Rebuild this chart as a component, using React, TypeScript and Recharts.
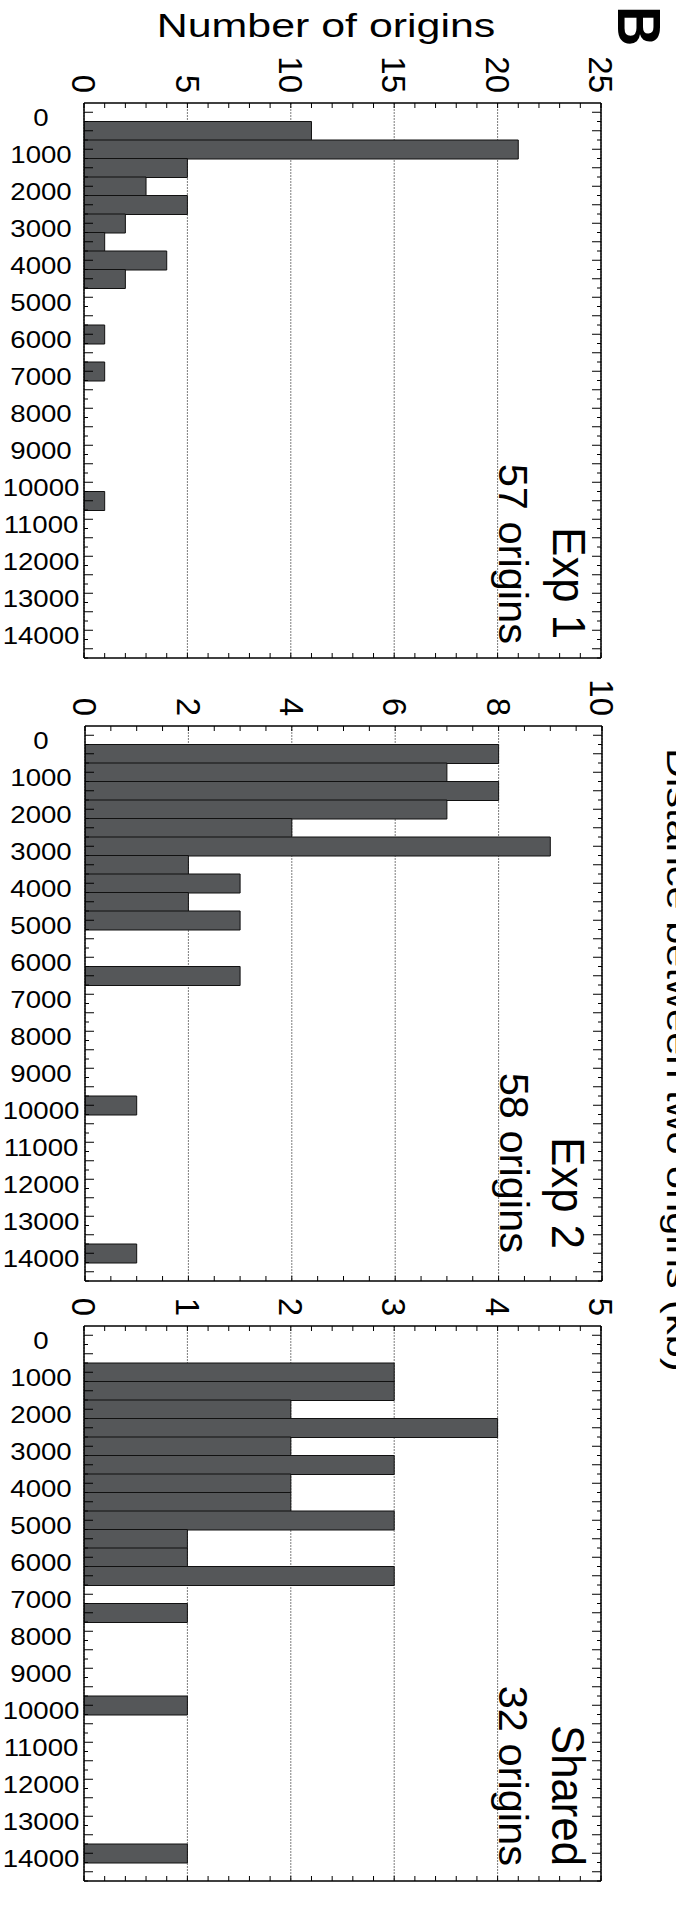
import React from "react";
import { BarChart, Bar, XAxis, YAxis, CartesianGrid } from "recharts";

// distance bins (bp), 500 wide, centred on the value
const distanceBins = [
  "0", "500", "1000", "1500", "2000", "2500", "3000", "3500", "4000", "4500",
  "5000", "5500", "6000", "6500", "7000", "7500", "8000", "8500", "9000", "9500",
  "10000", "10500", "11000", "11500", "12000", "12500", "13000", "13500", "14000", "14500",
];

const exp1Origins = [0, 11, 21, 5, 3, 5, 2, 1, 4, 2, 0, 0, 1, 0, 1, 0, 0, 0, 0, 0, 0, 1, 0, 0, 0, 0, 0, 0, 0, 0];
const exp2Origins = [0, 8, 7, 8, 7, 4, 9, 2, 3, 2, 3, 0, 0, 3, 0, 0, 0, 0, 0, 0, 1, 0, 0, 0, 0, 0, 0, 0, 1, 0];
const sharedOrigins = [0, 0, 3, 3, 2, 4, 2, 3, 2, 2, 3, 1, 1, 3, 0, 1, 0, 0, 0, 0, 1, 0, 0, 0, 0, 0, 0, 0, 1, 0];

const exp1Ticks = [0, 5, 10, 15, 20, 25];
const exp2Ticks = [0, 2, 4, 6, 8, 10];
const sharedTicks = [0, 1, 2, 3, 4, 5];

const FONT = "'Liberation Sans', Arial, Helvetica, sans-serif";
const PLOT_H = 555;
const TOP_H = 60;
const BAR_FILL = "#555759";

const Panel = ({ counts, ticks, minorStep, frameTop, frameLeft, frameRight }) => {
  const data = distanceBins.map((d, i) => ({ dist: d, n: counts[i] }));
  const band = PLOT_H / distanceBins.length;
  const xMax = ticks[ticks.length - 1];
  const minorTicks = [];
  for (let k = 0; k * minorStep <= xMax + 1e-9; k++) minorTicks.push(+(k * minorStep).toFixed(3));

  const topTick = ({ x, y, payload }) => (
    <text
      transform={`translate(${x},${y - 10}) rotate(90)`}
      textAnchor="end"
      dy="0.36em"
      fontSize={33}
      fontFamily={FONT}
      fill="#000"
    >
      {payload.value}
    </text>
  );

  const bottomTick = ({ x, y }) => (
    <g stroke="#000" strokeWidth={1}>
      <line x1={x} x2={x} y1={y} y2={y - 5} />
      <line x1={x} x2={x} y1={y - PLOT_H} y2={y - PLOT_H + 5} />
    </g>
  );

  const leftTick = ({ x, y, payload }) => {
    const v = Number(payload.value);
    return (
      <g>
        <line x1={x} x2={x + 9} y1={y} y2={y} stroke="#000" strokeWidth={1} />
        <line x1={x} x2={x + 4} y1={y + band / 2} y2={y + band / 2} stroke="#000" strokeWidth={1} />
        {v % 1000 === 0 && (
          <text
            transform={`translate(41,${y + 14}) scale(1.15,1)`}
            textAnchor="middle"
            fontSize={24}
            fontFamily={FONT}
            fill="#000"
          >
            {v}
          </text>
        )}
      </g>
    );
  };

  const rightTick = ({ x, y }) => (
    <g stroke="#000" strokeWidth={1}>
      <line x1={x} x2={x - 9} y1={y} y2={y} />
      <line x1={x} x2={x - 4} y1={y + band / 2} y2={y + band / 2} />
    </g>
  );

  return (
    <div style={{ position: "absolute", left: 0, top: frameTop - TOP_H }}>
      <BarChart
        width={676}
        height={TOP_H + PLOT_H + 1}
        data={data}
        layout="vertical"
        barCategoryGap={0}
        margin={{ top: 0, right: 676 - frameRight - 10, bottom: 0, left: 0 }}
      >
        <CartesianGrid
          horizontal={false}
          xAxisId="top"
          yAxisId="left"
          stroke="#444"
          strokeWidth={0.7}
          strokeDasharray="2 1"
        />
        <Bar
          dataKey="n"
          xAxisId="top"
          yAxisId="left"
          fill={BAR_FILL}
          stroke="#111"
          strokeWidth={1}
          isAnimationActive={false}
        />
        <XAxis
          xAxisId="top"
          orientation="top"
          type="number"
          domain={[0, xMax]}
          ticks={ticks}
          height={TOP_H}
          tickSize={0}
          tickMargin={0}
          tickLine={false}
          axisLine={{ stroke: "#000", strokeWidth: 1.5 }}
          tick={topTick}
          allowDataOverflow
        />
        <XAxis
          xAxisId="bottom"
          orientation="bottom"
          type="number"
          domain={[0, xMax]}
          ticks={minorTicks}
          height={1}
          tickSize={0}
          tickMargin={0}
          tickLine={false}
          axisLine={{ stroke: "#000", strokeWidth: 1.5 }}
          tick={bottomTick}
          interval={0}
          allowDataOverflow
        />
        <YAxis
          yAxisId="left"
          type="category"
          dataKey="dist"
          width={frameLeft}
          interval={0}
          tickSize={0}
          tickMargin={0}
          tickLine={false}
          axisLine={{ stroke: "#000", strokeWidth: 1.5 }}
          tick={leftTick}
        />
        <YAxis
          yAxisId="right"
          orientation="right"
          type="category"
          dataKey="dist"
          width={10}
          interval={0}
          tickSize={0}
          tickMargin={0}
          tickLine={false}
          axisLine={{ stroke: "#000", strokeWidth: 1.5 }}
          tick={rightTick}
        />
      </BarChart>
    </div>
  );
};

const Rot = ({ x, y, size, sx = 1, anchor = "start", bold = false, children }) => (
  <text
    transform={`translate(${x},${y}) rotate(90) scale(${sx},1)`}
    textAnchor={anchor}
    fontSize={size}
    fontWeight={bold ? "bold" : "normal"}
    fontFamily={FONT}
    fill="#000"
  >
    {children}
  </text>
);

export default function App() {
  return (
    <div style={{ position: "absolute", left: 0, top: 0, width: 676, height: 1915, background: "#fff" }}>
      <Panel counts={exp1Origins} ticks={exp1Ticks} minorStep={1} frameTop={103} frameLeft={84} frameRight={601} />
      <Panel counts={exp2Origins} ticks={exp2Ticks} minorStep={0.5} frameTop={726} frameLeft={85} frameRight={602} />
      <Panel counts={sharedOrigins} ticks={sharedTicks} minorStep={0.2} frameTop={1326} frameLeft={84} frameRight={601} />
      <svg width={676} height={1915} style={{ position: "absolute", left: 0, top: 0, pointerEvents: "none" }}>
        <text
          transform="translate(326,37) scale(1.3,1)"
          textAnchor="middle"
          fontSize={33}
          fontFamily={FONT}
          fill="#000"
        >
          Number of origins
        </text>
        <Rot x={618} y={6} size={62} sx={0.9} bold>B</Rot>
        <Rot x={667} y={748} size={33} sx={1.26}>Distance between two origins (kb)</Rot>

        <Rot x={553} y={639} size={46} sx={0.95} anchor="end">Exp 1</Rot>
        <Rot x={499} y={644} size={40} sx={1.04} anchor="end">57 origins</Rot>

        <Rot x={552} y={1249} size={46} sx={0.95} anchor="end">Exp 2</Rot>
        <Rot x={500} y={1253} size={40} sx={1.04} anchor="end">58 origins</Rot>

        <Rot x={552} y={1866} size={46} sx={0.95} anchor="end">Shared</Rot>
        <Rot x={499} y={1866} size={40} sx={1.04} anchor="end">32 origins</Rot>
      </svg>
    </div>
  );
}
